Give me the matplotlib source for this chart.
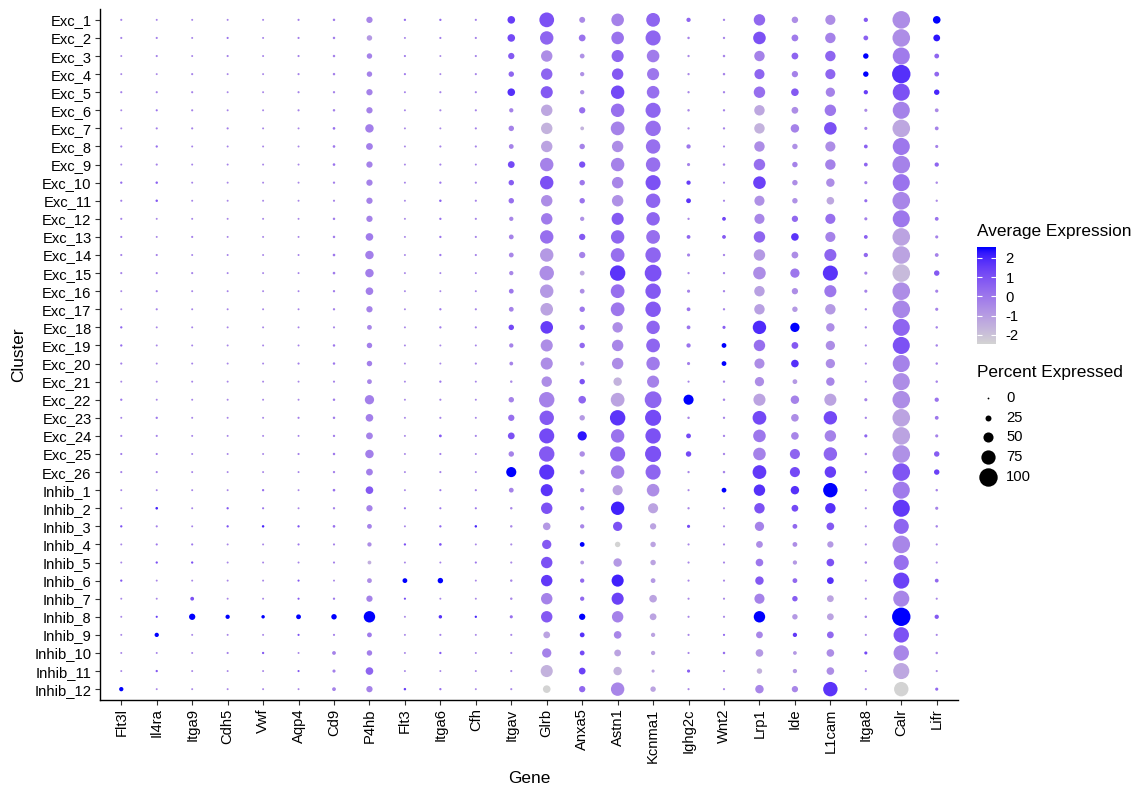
import numpy as np
import matplotlib
matplotlib.use("Agg")
import matplotlib.pyplot as plt
from matplotlib.colors import ListedColormap, Normalize

plt.rcParams['font.family'] = ['Liberation Sans', 'DejaVu Sans']

genes = ["Flt3l", "Il4ra", "Itga9", "Cdh5", "Vwf", "Aqp4", "Cd9", "P4hb", "Flt3", "Itga6", "Cfh",
         "Itgav", "Glrb", "Anxa5", "Astn1", "Kcnma1", "Ighg2c", "Wnt2", "Lrp1", "Ide", "L1cam",
         "Itga8", "Calr", "Lifr"]
clusters = ["Exc_%d" % i for i in range(1, 27)] + ["Inhib_%d" % i for i in range(1, 13)]

# percent expressed, one row per cluster (same order as genes)
pct_expressed = [
    [2, 1, 1, 1, 1, 2, 4, 27, 3, 3, 2, 35, 78, 25, 65, 72, 15, 3, 58, 28, 50, 15, 95, 35],
    [2, 2, 1, 2, 1, 2, 4, 22, 1, 2, 2, 35, 70, 30, 65, 80, 4, 3, 65, 30, 52, 18, 95, 30],
    [1, 2, 1, 2, 1, 2, 4, 22, 2, 1, 2, 27, 58, 18, 62, 65, 3, 4, 52, 30, 52, 22, 92, 18],
    [1, 1, 2, 1, 1, 2, 4, 22, 2, 1, 2, 22, 58, 15, 58, 62, 3, 4, 50, 27, 50, 22, 100, 18],
    [2, 2, 2, 1, 1, 2, 3, 27, 1, 2, 2, 35, 62, 15, 70, 65, 3, 3, 58, 35, 45, 15, 92, 22],
    [1, 2, 2, 1, 1, 2, 4, 27, 1, 2, 2, 15, 58, 27, 70, 80, 4, 3, 52, 30, 58, 8, 92, 12],
    [1, 2, 2, 2, 1, 1, 5, 40, 1, 1, 2, 22, 58, 12, 72, 82, 3, 3, 52, 40, 65, 8, 95, 12],
    [2, 3, 1, 1, 1, 1, 5, 30, 1, 2, 2, 18, 58, 22, 58, 76, 15, 2, 52, 22, 50, 12, 92, 8],
    [1, 2, 1, 1, 1, 1, 5, 27, 1, 2, 1, 30, 70, 27, 70, 76, 8, 4, 58, 22, 52, 12, 95, 15],
    [3, 4, 1, 1, 1, 1, 3, 27, 1, 3, 2, 22, 70, 22, 58, 80, 15, 2, 65, 22, 40, 8, 92, 4],
    [2, 4, 1, 1, 1, 1, 2, 27, 1, 4, 2, 22, 58, 22, 58, 76, 18, 2, 50, 22, 35, 8, 95, 3],
    [2, 1, 1, 1, 1, 1, 4, 27, 1, 3, 2, 15, 58, 15, 62, 70, 3, 12, 50, 27, 50, 8, 92, 12],
    [2, 1, 2, 1, 1, 1, 4, 35, 1, 3, 2, 18, 70, 27, 70, 72, 12, 12, 58, 35, 50, 12, 95, 8],
    [2, 2, 1, 1, 1, 1, 5, 40, 1, 3, 2, 18, 70, 27, 72, 82, 8, 3, 58, 30, 62, 15, 95, 12],
    [2, 2, 2, 1, 1, 1, 5, 40, 1, 1, 1, 15, 76, 18, 82, 90, 3, 3, 65, 45, 80, 8, 95, 22],
    [1, 2, 1, 1, 1, 1, 3, 35, 1, 1, 1, 18, 70, 18, 72, 82, 8, 3, 52, 27, 62, 8, 95, 8],
    [1, 2, 1, 1, 1, 1, 3, 27, 1, 3, 2, 18, 65, 22, 72, 82, 12, 3, 52, 22, 52, 3, 95, 8],
    [3, 1, 1, 1, 1, 1, 2, 18, 1, 3, 2, 22, 65, 22, 52, 70, 12, 8, 70, 45, 40, 3, 92, 4],
    [3, 1, 1, 1, 1, 1, 4, 22, 1, 1, 1, 15, 62, 22, 58, 72, 15, 18, 58, 30, 45, 2, 92, 4],
    [2, 1, 1, 1, 1, 2, 4, 22, 1, 1, 2, 12, 62, 15, 58, 70, 8, 18, 50, 35, 45, 2, 92, 4],
    [1, 1, 1, 1, 1, 1, 2, 18, 1, 3, 1, 4, 52, 22, 40, 62, 2, 3, 45, 18, 40, 2, 92, 4],
    [3, 1, 1, 1, 1, 1, 4, 45, 1, 2, 1, 22, 82, 35, 72, 90, 50, 4, 62, 40, 62, 8, 95, 15],
    [1, 3, 1, 1, 1, 2, 4, 35, 1, 2, 1, 27, 76, 22, 82, 86, 4, 3, 72, 35, 70, 3, 95, 12],
    [2, 2, 1, 1, 1, 1, 3, 30, 1, 6, 2, 30, 80, 45, 70, 82, 18, 3, 65, 35, 58, 8, 95, 8],
    [2, 2, 1, 1, 1, 2, 4, 40, 1, 2, 1, 22, 82, 22, 80, 86, 22, 3, 65, 50, 70, 4, 95, 22],
    [2, 2, 1, 1, 1, 1, 3, 30, 1, 2, 1, 50, 80, 18, 70, 80, 3, 4, 72, 50, 58, 4, 95, 22],
    [1, 1, 1, 1, 3, 1, 5, 35, 1, 2, 2, 18, 62, 15, 50, 65, 2, 18, 58, 40, 76, 2, 92, 4],
    [1, 5, 1, 3, 2, 1, 3, 27, 2, 2, 2, 4, 58, 15, 70, 50, 3, 2, 52, 30, 52, 2, 92, 8],
    [3, 2, 1, 3, 4, 3, 5, 18, 1, 3, 4, 4, 35, 15, 45, 27, 8, 2, 45, 18, 35, 2, 80, 4],
    [1, 2, 2, 1, 1, 2, 2, 15, 3, 5, 1, 2, 45, 18, 22, 22, 2, 2, 30, 18, 27, 2, 95, 2],
    [1, 3, 3, 1, 1, 1, 2, 12, 1, 1, 2, 2, 58, 12, 40, 22, 2, 2, 35, 15, 35, 4, 80, 2],
    [3, 1, 1, 1, 1, 2, 1, 18, 18, 22, 1, 4, 58, 15, 62, 18, 2, 2, 40, 18, 30, 2, 86, 12],
    [1, 1, 12, 1, 1, 2, 3, 27, 2, 1, 1, 4, 58, 15, 62, 35, 2, 2, 50, 22, 30, 2, 86, 2],
    [1, 2, 27, 15, 10, 18, 22, 58, 1, 10, 3, 8, 58, 27, 58, 30, 2, 2, 58, 22, 30, 4, 100, 15],
    [1, 15, 1, 1, 1, 2, 2, 18, 1, 2, 1, 2, 30, 18, 35, 15, 2, 2, 30, 15, 30, 2, 82, 2],
    [1, 1, 1, 2, 3, 1, 12, 22, 1, 3, 1, 2, 45, 18, 30, 15, 2, 4, 35, 12, 35, 8, 82, 4],
    [1, 3, 1, 1, 1, 2, 8, 35, 1, 1, 1, 2, 62, 30, 40, 8, 8, 2, 22, 15, 35, 2, 86, 2],
    [15, 1, 1, 1, 1, 1, 12, 27, 4, 3, 1, 2, 35, 27, 70, 22, 2, 2, 40, 27, 76, 2, 76, 8],
]

# scaled average expression, one row per cluster
avg_expression = [
    [-0.3, -0.3, -0.3, -0.3, -0.3, -0.2, -0.1, -0.4, 0.2, 0.3, -0.2, 1.5, 1.0, -0.5, -0.3, 0.5, 0.5, -0.3, 0.4, -0.6, -0.6, 0.8, -0.6, 2.5],
    [-0.3, -0.2, -0.3, 0.1, -0.3, -0.2, -0.1, -0.9, -0.3, -0.1, -0.2, 1.2, 0.5, 0.1, 0.1, 0.5, -0.3, -0.3, 1.0, -0.1, -0.3, 0.6, -0.6, 2.3],
    [-0.5, -0.3, -0.3, -0.3, -0.3, -0.3, -0.2, -0.3, -0.1, -0.5, -0.3, 0.8, -0.6, -0.7, 0.5, -0.1, -0.5, -0.3, -0.3, 0.5, 0.5, 2.5, -0.1, 0.5],
    [-0.4, -0.5, -0.3, -0.4, -0.4, -0.3, -0.2, -0.3, 0.0, -0.4, -0.3, 0.5, 0.5, -0.7, 0.8, 0.0, -0.5, -0.3, 0.5, -0.3, 0.5, 2.5, 1.8, 0.4],
    [-0.2, -0.3, -0.3, -0.4, -0.4, -0.3, -0.3, -0.3, -0.2, -0.3, -0.3, 1.8, 0.8, -0.7, 1.2, 0.2, -0.4, -0.3, 0.2, 0.8, -0.3, 1.5, 1.0, 2.0],
    [-0.4, 0.1, -0.3, -0.3, -0.4, -0.3, -0.2, -0.3, -0.3, -0.4, -0.3, -0.3, -1.3, 0.2, 0.2, 0.5, -0.4, -0.3, -1.3, -0.6, 0.0, -0.5, -0.3, -0.5],
    [-0.4, -0.2, -0.3, -0.2, -0.4, -0.4, 0.2, -0.2, -0.4, -0.4, -0.2, -0.3, -1.6, -1.6, -0.3, 0.2, -0.5, -0.3, -1.6, -0.3, 1.0, -0.3, -1.3, -0.3],
    [-0.3, 0.2, -0.3, -0.3, -0.4, -0.4, 0.0, -0.2, -0.4, -0.3, -0.3, -0.3, -1.2, -0.3, -0.6, 0.2, 0.0, -0.3, -0.6, -0.7, -0.6, 0.6, 0.0, -0.3],
    [-0.4, -0.3, -0.3, -0.3, -0.4, -0.4, 0.1, -0.3, -0.4, -0.3, -0.3, 1.2, -0.3, 1.0, -0.3, 0.2, -0.3, -0.3, 0.2, -0.3, -0.3, 0.5, -0.3, 0.5],
    [0.3, 0.6, -0.3, -0.4, -0.4, -0.4, -0.2, -0.3, -0.3, 0.0, -0.3, 0.7, 1.0, 0.0, -0.4, 1.0, 1.5, -0.3, 1.4, -0.6, -0.6, -0.2, 0.1, -0.5],
    [-0.2, 0.8, -0.3, -0.4, -0.4, -0.4, -0.3, -0.3, -0.4, 0.6, -0.3, 0.2, -0.6, 0.1, -0.7, 0.5, 1.7, -0.3, -0.7, -0.7, -1.3, 0.3, -0.4, -0.5],
    [-0.3, -0.4, -0.3, -0.4, -0.4, -0.4, -0.1, -0.3, -0.4, 0.2, -0.3, -0.4, -0.1, -0.7, 0.8, 0.5, -0.4, 1.3, -0.4, 0.4, 0.2, -0.2, 0.0, 0.1],
    [-0.1, -0.4, -0.2, -0.4, -0.4, -0.4, -0.1, -0.1, -0.4, 0.1, -0.3, -0.3, 0.2, 0.8, 0.5, 0.2, 0.5, 0.8, 0.5, 1.7, -0.3, 0.6, -1.2, -0.3],
    [-0.3, -0.3, -0.3, -0.3, -0.4, -0.3, 0.0, -0.2, -0.4, 0.0, -0.3, -0.4, -0.9, -0.3, 0.2, 0.5, -0.3, -0.3, -0.9, -0.6, 0.5, 0.4, -1.2, -0.3],
    [-0.3, -0.2, -0.3, -0.3, -0.4, -0.3, -0.1, -0.2, -0.4, -0.3, -0.3, -0.4, -0.6, -1.3, 1.7, 1.0, -0.5, -0.3, -0.6, 0.0, 1.7, -0.3, -1.8, 0.8],
    [-0.4, -0.2, -0.3, -0.3, -0.4, -0.3, -0.1, -0.2, -0.4, -0.4, -0.3, 0.0, -0.9, -0.6, 0.2, 0.8, -0.3, -0.3, -1.1, -0.6, 0.0, -0.3, -0.6, -0.3],
    [-0.4, -0.3, -0.3, -0.3, -0.4, -0.3, -0.2, -0.3, -0.4, 0.0, -0.3, -0.3, -1.2, 0.0, 0.0, 0.8, 0.1, -0.3, -1.1, -0.9, -0.9, -0.3, -0.4, -0.3],
    [0.5, -0.4, -0.3, -0.4, -0.4, -0.3, -0.4, -0.4, -0.4, -0.1, -0.2, 1.2, 1.5, 0.1, -0.6, 0.5, 0.1, 0.7, 1.9, 2.5, -0.6, -0.3, 0.5, -0.3],
    [0.3, -0.4, -0.3, -0.4, -0.4, -0.3, 0.0, -0.2, -0.4, -0.4, -0.3, -0.3, -0.6, 0.4, -0.4, 0.5, 0.1, 2.5, 0.2, 0.8, -0.6, -0.3, 1.0, -0.3],
    [-0.2, -0.4, -0.3, -0.4, -0.4, -0.2, 0.0, -0.2, -0.4, -0.4, -0.3, -0.3, -0.6, -0.9, -0.6, -0.1, -0.2, 2.5, -0.6, 1.8, -0.6, -0.3, -0.3, -0.3],
    [-0.4, -0.4, -0.3, -0.4, -0.4, -0.4, -0.3, -0.4, -0.4, 0.0, -0.3, -0.5, -0.6, 1.0, -1.6, -0.3, -0.3, -0.3, -0.6, -0.9, -0.4, -0.3, -0.6, -0.3],
    [0.0, -0.4, -0.3, -0.4, -0.4, -0.4, -0.1, -0.2, -0.4, -0.3, -0.3, -0.3, -0.3, 0.5, -1.2, 0.5, 2.5, -0.3, -1.2, -0.3, -1.2, -0.3, -0.6, 0.1],
    [-0.3, 0.0, -0.3, -0.4, -0.4, -0.2, -0.1, -0.2, -0.4, -0.3, -0.3, 0.2, 0.8, -0.9, 1.7, 1.2, -0.4, -0.3, 1.2, -0.6, 1.2, -0.3, -1.2, 0.0],
    [-0.3, -0.3, -0.3, -0.4, -0.4, -0.3, -0.1, -0.3, -0.4, 0.8, -0.3, 1.0, 1.2, 2.3, 0.1, 1.0, 1.2, -0.3, 0.0, -0.4, -0.3, 0.5, -1.2, -0.3],
    [-0.1, -0.2, -0.3, -0.4, -0.4, -0.3, 0.0, -0.2, -0.4, -0.2, -0.3, -0.3, 0.8, -0.6, 0.5, 1.0, 1.2, -0.3, -0.3, 0.5, 0.5, -0.3, -0.7, 0.7],
    [-0.3, -0.3, -0.3, -0.4, -0.4, -0.3, -0.2, -0.2, -0.4, -0.3, -0.3, 2.5, 1.7, -0.6, -0.3, 0.5, -0.4, -0.3, 1.6, 1.2, 1.5, -0.3, 0.9, 1.4],
    [-0.3, -0.4, -0.3, -0.4, 0.2, -0.4, 0.2, 0.8, -0.4, 0.0, -0.3, -0.3, 1.7, -0.4, -1.2, -0.6, -0.4, 2.5, 1.8, 1.8, 2.5, -0.4, -0.1, -0.3],
    [-0.4, 2.0, -0.3, 0.8, 0.0, -0.4, -0.2, -0.3, 0.2, 0.0, 0.0, -0.4, 1.0, -0.4, 2.1, -1.2, -0.4, -0.4, 1.0, 1.2, 1.8, -0.4, 1.6, -0.3],
    [1.0, -0.2, -0.3, 1.0, 2.0, 1.0, 0.2, -0.3, -0.3, 0.5, 2.0, -0.4, -0.9, -0.4, 1.0, -1.2, 1.2, -0.4, -0.3, 0.4, 0.8, -0.4, 0.5, -0.3],
    [-0.4, 0.0, 0.0, -0.4, -0.4, 0.0, -0.3, -0.6, 1.0, 1.0, -0.4, -0.5, 0.8, 2.5, -2.5, -1.2, -0.4, -0.4, -0.6, -0.6, -0.9, -0.4, -0.4, -0.4],
    [-0.4, 1.0, 1.0, -0.4, -0.4, -0.3, -0.3, -1.5, -0.4, -0.2, 0.0, -0.5, 1.0, -0.9, -0.9, -1.2, -0.4, -0.4, 0.0, -0.9, 1.0, -0.3, 0.2, -0.5],
    [0.8, -0.4, -0.4, -0.4, -0.4, 0.8, -0.4, -0.6, 2.5, 2.5, -0.4, -0.4, 1.6, 0.4, 2.1, -0.9, -0.4, -0.4, 0.8, 0.4, 1.8, -0.4, 1.4, 0.4],
    [-0.4, -0.4, 1.0, -0.4, -0.4, 0.8, 0.0, -0.3, 1.2, -0.3, -0.4, -0.4, -0.3, 0.4, 1.4, -1.2, -0.4, -0.4, -0.3, 0.7, -1.2, -0.4, -0.4, -0.4],
    [-0.4, 1.5, 2.5, 2.5, 2.5, 2.5, 2.5, 2.5, -0.4, 1.8, 2.0, 0.2, 0.8, 2.5, -0.3, -1.2, -0.4, -0.4, 2.5, -0.9, -1.2, -0.3, 2.5, 0.8],
    [-0.4, 2.5, -0.4, -0.4, -0.4, 1.0, -0.2, -0.1, -0.4, -0.3, -0.4, -0.4, -1.2, 1.8, -0.4, -1.2, -0.4, 0.5, -0.4, 1.6, 0.4, -0.4, 1.0, -0.4],
    [-0.4, -0.3, -0.4, -0.3, 0.8, -0.4, -0.3, -0.2, -0.4, 0.8, -0.4, -0.4, -0.3, 1.2, -1.2, -1.2, -0.4, 0.3, -0.9, -0.9, -0.6, 1.2, -0.4, -0.4],
    [-0.4, 0.8, -0.4, -0.4, -0.4, 0.8, -0.2, 0.5, -0.4, -0.4, -0.4, -0.4, -1.6, 1.4, -1.6, -1.2, 0.7, -0.4, -1.6, -0.9, -0.6, -0.4, -1.3, -0.5],
    [2.5, -0.4, -0.4, -0.4, -0.4, -0.4, -0.3, -0.3, 1.5, 0.2, -0.4, -0.4, -2.5, 0.4, -0.4, -1.2, -0.4, -0.4, -0.4, -0.4, 1.7, -0.4, -2.5, 0.4],
]

legend_pcts = [0, 25, 50, 75, 100]
cbar_ticks = [-2, -1, 0, 1, 2]


# lightgrey -> blue, interpolated in Lab like ggplot's gradient
def srgb_to_lab(c):
    c = np.asarray(c, float)
    lin = np.where(c <= 0.04045, c / 12.92, ((c + 0.055) / 1.055) ** 2.4)
    m = np.array([[0.4124, 0.3576, 0.1805], [0.2126, 0.7152, 0.0722], [0.0193, 0.1192, 0.9505]])
    xyz = m @ lin / np.array([0.95047, 1.0, 1.08883])
    f = np.where(xyz > (6 / 29) ** 3, np.cbrt(xyz), xyz / (3 * (6 / 29) ** 2) + 4 / 29)
    return np.array([116 * f[1] - 16, 500 * (f[0] - f[1]), 200 * (f[1] - f[2])])


def lab_to_srgb(lab):
    L, a, b = lab
    fy = (L + 16) / 116
    f = np.array([fy + a / 500, fy, fy - b / 200])
    xyz = np.where(f > 6 / 29, f ** 3, 3 * (6 / 29) ** 2 * (f - 4 / 29)) * np.array([0.95047, 1.0, 1.08883])
    m = np.array([[3.2406, -1.5372, -0.4986], [-0.9689, 1.8758, 0.0415], [0.0557, -0.2040, 1.0570]])
    lin = np.clip(m @ xyz, 0, 1)
    return np.clip(np.where(lin <= 0.0031308, 12.92 * lin, 1.055 * lin ** (1 / 2.4) - 0.055), 0, 1)


lab0 = srgb_to_lab([211 / 255] * 3)
lab1 = srgb_to_lab([0, 0, 1])
cmap = ListedColormap([lab_to_srgb(lab0 + (lab1 - lab0) * t) for t in np.linspace(0, 1, 256)])
norm = Normalize(vmin=-2.5, vmax=2.5)

W, H = 1146, 787
DPI = 100


def dot_size(p):
    d_px = 1.8 + 0.166 * np.asarray(p, float)
    return (d_px * 72 / DPI) ** 2


pct = np.array(pct_expressed)
avg = np.array(avg_expression)
xx, yy = np.meshgrid(np.arange(len(genes)), np.arange(len(clusters)))

fig = plt.figure(figsize=(W / DPI, H / DPI), dpi=DPI)
ax = fig.add_axes([100 / W, 1 - 700 / H, 858 / W, 691 / H])
ax.scatter(xx.ravel(), yy.ravel(), s=dot_size(pct.ravel()), c=avg.ravel(),
           cmap=cmap, norm=norm, linewidths=0)
ax.set_xlim(-0.6, len(genes) - 0.4)
ax.set_ylim(len(clusters) - 0.4, -0.6)
ax.set_xticks(range(len(genes)))
ax.set_xticklabels(genes, rotation=90, fontsize=10.6)
ax.set_yticks(range(len(clusters)))
ax.set_yticklabels(clusters, fontsize=10.6)
ax.tick_params(length=3.6, width=0.8, pad=2.5, color='#333333')
for side in ['top', 'right']:
    ax.spines[side].set_visible(False)
for side in ['left', 'bottom']:
    ax.spines[side].set_linewidth(1.0)
ax.set_xlabel('Gene', fontsize=12.4, labelpad=6)
ax.set_ylabel('Cluster', fontsize=12.4, labelpad=6)

# colour legend
fig.text(977 / W, 1 - 236 / H, 'Average Expression', fontsize=12.4, va='baseline')
cax = fig.add_axes([977 / W, 1 - 344 / H, 19 / W, 97 / H])
grad = np.linspace(-2.5, 2.55, 200).reshape(-1, 1)
cax.imshow(grad, aspect='auto', cmap=cmap, norm=norm, origin='lower',
           extent=[0, 1, -2.47, 2.57])
cax.set_xlim(0, 1)
cax.set_ylim(-2.47, 2.57)
cax.set_xticks([])
cax.set_yticks(cbar_ticks)
cax.set_yticklabels([str(t) for t in cbar_ticks], fontsize=10.6)
cax.yaxis.tick_right()
cax.tick_params(axis='y', direction='in', color='white', length=3.5, width=0.8,
                left=True, right=True, pad=7)
for sp in cax.spines.values():
    sp.set_visible(False)

# size legend
fig.text(977 / W, 1 - 377 / H, 'Percent Expressed', fontsize=12.4, va='baseline')
lax = fig.add_axes([0, 0, 1, 1], facecolor='none')
lax.set_xlim(0, W)
lax.set_ylim(H, 0)
lax.axis('off')
for k, p in enumerate(legend_pcts):
    yk = 398 + 19.7 * k
    lax.scatter([988], [yk], s=dot_size(p), color='black', linewidths=0)
    lax.text(1006, yk, str(p), fontsize=10.6, va='center', ha='left')

fig.savefig('out.png', dpi=DPI)
